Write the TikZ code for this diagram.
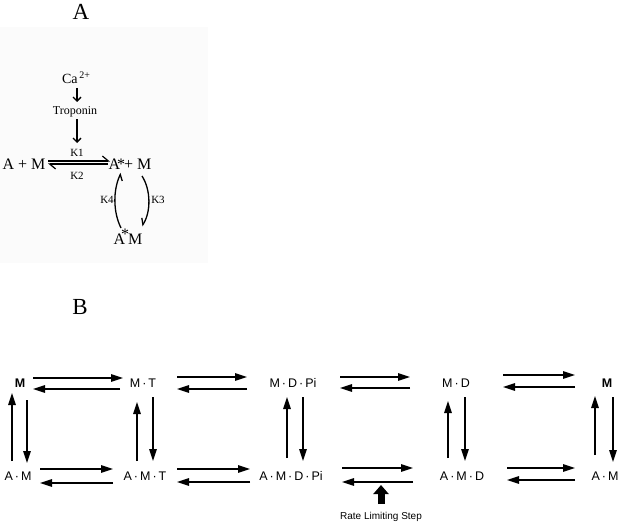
\documentclass[tikz,border=0pt]{standalone}
\usepackage{fontspec}
\setmainfont{Liberation Serif}
\newfontfamily\bsans{Liberation Sans}
\usetikzlibrary{arrows.meta}
\newcommand\dt{\hspace{2pt}·\hspace{2pt}}
\begin{document}
\begin{tikzpicture}[x=1pt,y=-1pt,
  arr/.style={line width=1.6pt,-{Triangle[length=12pt,width=7.5pt]}},
  thin/.style={line width=1.3pt,-{Straight Barb[length=4pt,width=8pt]}},
  harpr/.style={line width=1.2pt,-{Straight Barb[left,length=6pt,width=10pt]}},
  harpc/.style={line width=1.3pt,-{Straight Barb[right,length=5pt,width=9pt]}},
  lab/.style={font=\fontsize{12.5}{14}\bsans,inner sep=0pt},
  big/.style={font=\fontsize{23}{25}\selectfont,inner sep=0pt},
  eqn/.style={font=\fontsize{16}{18}\selectfont,inner sep=0pt},
  kk/.style={font=\fontsize{11}{13}\selectfont,inner sep=0pt}]
\useasboundingbox (0,0) rectangle (623,524);
\fill[black!1.5] (0,27) rectangle (208,263);
% ---------- Panel A ----------
\node[big] (la) at (81,12) {A};
\node[inner sep=0pt,font=\fontsize{14}{16}\selectfont] (ca) at (76,78) {Ca\raisebox{5pt}{\fontsize{10}{12}\selectfont\,2+}};
\node[inner sep=0pt,font=\fontsize{12}{14}\selectfont] (tro) at (75,112) {Troponin};
\node[kk] (k1) at (77,153) {K1};
\node[kk] (k2) at (77,176) {K2};
\node[eqn] (am) at (24,164) {A + M};
\node[eqn] (asm) at (130,164) {A\kern-3pt*\kern-1pt+ M};
\node[eqn] (asm2) at (128,237) {A\kern-4pt\raisebox{5pt}{*}\kern-1pt M};
\node[kk] (k4) at (107,200) {K4};
\node[kk] (k3) at (158,200) {K3};
\draw[thin] ([shift={(1,10)}]ca.center) -- ([shift={(2,-10)}]tro.center);
\draw[thin] ([shift={(2,7)}]tro.center) -- ([shift={(0,-10)}]k1.center);
\draw[harpr] ([shift={(24,-3)}]am.center) -- ([shift={(-20,-3)}]asm.center);
\draw[harpr] ([shift={(-22,0)}]asm.center) -- ([shift={(24,0)}]am.center);
\draw[harpc] ([shift={(-7,-9)}]asm2.center) .. controls (113,212) and (113,190) .. ([shift={(-9,9)}]asm.center);
\draw[harpc] ([shift={(12,12)}]asm.center) .. controls (151,190) and (151,212) .. ([shift={(14,-11)}]asm2.center);
% ---------- Panel B ----------
\node[big] (lb) at (80,307) {B};
\node[lab,font=\fontsize{12.5}{14}\bsans\bfseries] (m1) at (20,383) {M};
\node[lab] (mt) at (143,383) {M\dt T};
\node[lab] (mdp) at (293,383) {M\dt D\dt Pi};
\node[lab] (md) at (456,383) {M\dt D};
\node[lab,font=\fontsize{12.5}{14}\bsans\bfseries] (m2) at (607,383) {M};
\node[lab] (am1) at (18,476) {A\dt M};
\node[lab] (amt) at (145,476) {A\dt M\dt T};
\node[lab] (amdp) at (291,476) {A\dt M\dt D\dt Pi};
\node[lab] (amd) at (462,476) {A\dt M\dt D};
\node[lab] (am2) at (605,476) {A\dt M};
% top row horizontal
\draw[arr] ([shift={(13,-5)}]m1.center) -- ([shift={(-20,-5)}]mt.center);
\draw[arr] ([shift={(-23,6)}]mt.center) -- ([shift={(13,6)}]m1.center);
\draw[arr] ([shift={(34,-6)}]mt.center) -- ([shift={(-46,-6)}]mdp.center);
\draw[arr] ([shift={(-46,6)}]mdp.center) -- ([shift={(34,6)}]mt.center);
\draw[arr] ([shift={(47,-6)}]mdp.center) -- ([shift={(-46,-6)}]md.center);
\draw[arr] ([shift={(-46,5)}]md.center) -- ([shift={(47,5)}]mdp.center);
\draw[arr] ([shift={(47,-8)}]md.center) -- ([shift={(-32,-8)}]m2.center);
\draw[arr] ([shift={(-32,4)}]m2.center) -- ([shift={(47,4)}]md.center);
% bottom row horizontal
\draw[arr] ([shift={(22,-7)}]am1.center) -- ([shift={(-32,-7)}]amt.center);
\draw[arr] ([shift={(-32,7)}]amt.center) -- ([shift={(22,7)}]am1.center);
\draw[arr] ([shift={(32,-7)}]amt.center) -- ([shift={(-41,-7)}]amdp.center);
\draw[arr] ([shift={(-41,6)}]amdp.center) -- ([shift={(32,6)}]amt.center);
\draw[arr] ([shift={(51,-8)}]amdp.center) -- ([shift={(-49,-8)}]amd.center);
\draw[arr] ([shift={(-49,6)}]amd.center) -- ([shift={(51,6)}]amdp.center);
\draw[arr] ([shift={(45,-8)}]amd.center) -- ([shift={(-30,-8)}]am2.center);
\draw[arr] ([shift={(-30,4)}]am2.center) -- ([shift={(45,4)}]amd.center);
% verticals
\draw[arr] ([shift={(-6,-15)}]am1.center) -- ([shift={(-8,10)}]m1.center);
\draw[arr] ([shift={(7,17)}]m1.center) -- ([shift={(9,-13)}]am1.center);
\draw[arr] ([shift={(-8,-15)}]amt.center) -- ([shift={(-6,19)}]mt.center);
\draw[arr] ([shift={(10,14)}]mt.center) -- ([shift={(8,-15)}]amt.center);
\draw[arr] ([shift={(-4,-18)}]amdp.center) -- ([shift={(-6,14)}]mdp.center);
\draw[arr] ([shift={(10,14)}]mdp.center) -- ([shift={(12,-15)}]amdp.center);
\draw[arr] ([shift={(-14,-18)}]amd.center) -- ([shift={(-8,18)}]md.center);
\draw[arr] ([shift={(9,14)}]md.center) -- ([shift={(3,-15)}]amd.center);
\draw[arr] ([shift={(-10,-21)}]am2.center) -- ([shift={(-12,13)}]m2.center);
\draw[arr] ([shift={(6,14)}]m2.center) -- ([shift={(8,-14)}]am2.center);
% rate limiting step
\node[font=\fontsize{10}{12}\bsans,inner sep=0pt] (rls) at (381,517) {Rate Limiting Step};
\draw[line width=7pt,-{Triangle[length=9pt,width=15pt]}] ([yshift=8]rls.north) -- ([shift={(0,-32)}]rls.center);
\end{tikzpicture}
\end{document}
